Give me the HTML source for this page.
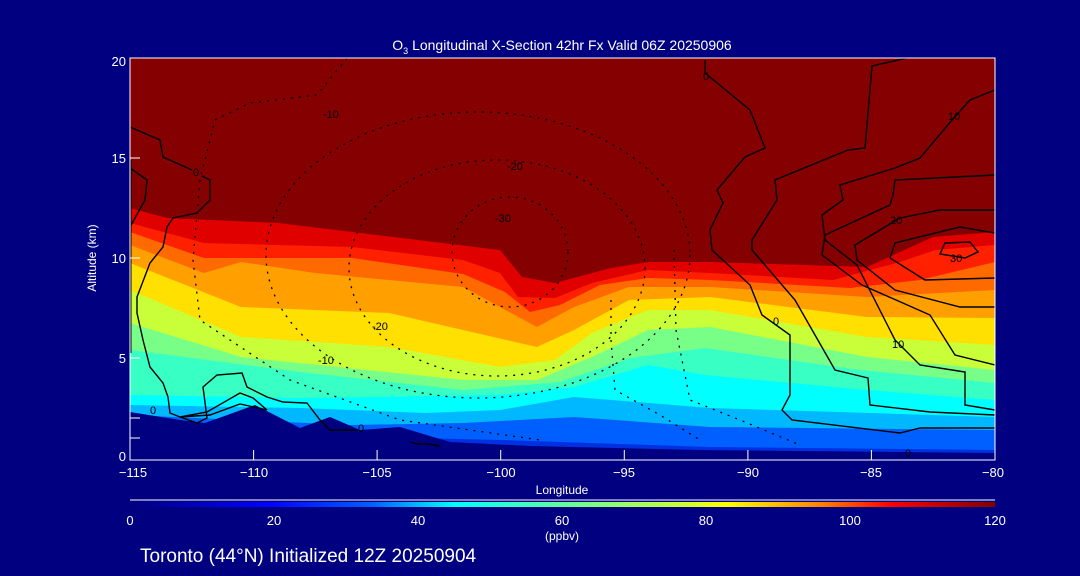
<!DOCTYPE html>
<html><head><meta charset="utf-8"><style>
html,body{margin:0;padding:0;background:#000080;}
svg{display:block;}
text{font-family:"Liberation Sans",sans-serif;fill:#fff;}
.cl text{fill:#000;}
</style></head><body>
<svg width="1080" height="576" viewBox="0 0 1080 576" xmlns="http://www.w3.org/2000/svg">
<defs>
<linearGradient id="cb" x1="0" x2="1" y1="0" y2="0">
<stop offset="0" stop-color="#00007f"/>
<stop offset="0.16" stop-color="#0000ff"/>
<stop offset="0.28" stop-color="#0060ff"/>
<stop offset="0.375" stop-color="#00ffff"/>
<stop offset="0.5" stop-color="#60ffa0"/>
<stop offset="0.625" stop-color="#c0ff40"/>
<stop offset="0.69" stop-color="#ffff00"/>
<stop offset="0.8" stop-color="#ff8000"/>
<stop offset="0.88" stop-color="#ff0000"/>
<stop offset="1" stop-color="#800000"/>
</linearGradient>
<clipPath id="pc"><rect x="130" y="58" width="865" height="402"/></clipPath>
</defs>
<rect width="1080" height="576" fill="#000080"/>
<g clip-path="url(#pc)">
<rect x="130" y="58" width="865" height="402" fill="#850000"/>
<path fill="#e00000" d="M130,208 L167,218 L278,223 L500,250 L522,277 L555,283 L611,268 L648,262 L710,262 L867,267 L933,237 L995,232 L995,460 L130,460Z"/>
<path fill="#ff2000" d="M130,223 L204,243 L352,247 L463,260 L500,273 L518,297 L555,298 L592,283 L648,270 L710,273 L833,280 L900,262 L935,250 L995,245 L995,460 L130,460Z"/>
<path fill="#ff6a00" d="M130,232 L204,258 L352,258 L463,274 L505,292 L530,312 L560,305 L600,285 L648,278 L710,280 L850,288 L920,280 L995,262 L995,460 L130,460Z"/>
<path fill="#ffa000" d="M130,245 L204,273 L241,262 L315,273 L463,287 L500,307 L537,327 L574,307 L629,287 L710,287 L867,297 L995,290 L995,460 L130,460Z"/>
<path fill="#ffe000" d="M130,263 L241,307 L389,313 L463,330 L537,347 L574,330 L629,300 L710,297 L867,317 L995,318 L995,460 L130,460Z"/>
<path fill="#c8ff38" d="M130,290 L241,337 L389,347 L500,367 L555,360 L592,333 L648,310 L710,310 L867,337 L995,345 L995,460 L130,460Z"/>
<path fill="#78ff88" d="M130,323 L241,357 L463,380 L537,380 L592,357 L648,330 L710,327 L867,357 L995,370 L995,460 L130,460Z"/>
<path fill="#38ffc4" d="M130,350 L300,372 L463,390 L560,382 L630,358 L705,348 L860,370 L995,383 L995,460 L130,460Z"/>
<path fill="#00ffff" d="M130,395 L300,398 L500,395 L574,387 L648,365 L705,375 L867,390 L995,400 L995,460 L130,460Z"/>
<path fill="#00b8ff" d="M130,405 L300,408 L426,413 L500,410 L574,397 L710,408 L995,417 L995,460 L130,460Z"/>
<path fill="#0060ff" d="M130,415 L350,425 L463,423 L574,417 L710,427 L995,430 L995,460 L130,460Z"/>
<path fill="#0030e0" d="M420,438 L500,440 L710,447 L995,450 L995,460 L420,460Z"/>
<path fill="#000080" d="M130,412 L180,420 L205,423 L255,405 L300,428 L330,417 L360,430 L400,427 L450,442 L530,446 L700,450 L995,453 L995,460 L130,460Z"/>
<g fill="none" stroke="#000" stroke-width="1.4">
<path d="M705,60 L705,73 L750,110 L765,148 L745,157 L717,190 L723,203 L710,230 L712,250 L750,285 L762,315 L790,335 L790,395 L782,410 L792,420 L900,433 L920,428 L995,428"/>
<path d="M907,58 L872,66 L865,148 L848,150 L775,180 L777,200 L752,240 L752,250 L795,300 L835,370 L868,378 L870,405 L930,412 L995,415"/>
<path d="M995,90 L970,100 L952,120 L920,158 L895,168 L840,185 L843,200 L822,215 L825,240 L857,265 L895,340 L920,365 L965,372 L965,405 L995,410"/>
<path d="M995,175 L895,180 L893,195 L890,205 L825,235 L822,255 L862,285 L930,315 L955,355 L995,365"/>
<path d="M995,210 L940,210 L900,218 L855,245 L857,260 L895,290 L960,307 L995,307"/>
<path d="M995,233 L960,227 L895,243 L890,258 L925,280 L995,278"/>
<path d="M945,243 L970,242 L978,252 L965,258 L940,254Z"/>
<path d="M130,127 L153,137 L160,140 L163,157 L192,170 M202,176 L210,180 L210,200 L197,213 L173,218 L167,227 L163,247 L150,263 L137,297 L137,313 L143,340 L150,367 L163,383 L168,397 L170,413 L180,417 L197,423 L207,418 L203,387 L217,375 L242,373 L247,387 L267,397 L283,402 L307,403 L320,420 L330,430 L358,430"/>
<path d="M130,168 L147,180 L145,200 L130,227"/>
<path d="M180,417 L207,412 L240,393 L253,398 L267,410 L240,404 L210,415Z"/>
<path d="M410,442 L418,444 L428,444 L440,446"/>
<line x1="130" y1="160" x2="130" y2="353" stroke-width="3"/>
</g>
<g fill="none" stroke="#000" stroke-width="1.3" stroke-dasharray="2 6">
<ellipse cx="510" cy="252" rx="58" ry="55"/>
<ellipse cx="497" cy="268" rx="148" ry="108"/>
<ellipse cx="478" cy="255" rx="212" ry="143"/>
<path d="M347,58 L317,95 L250,103 L215,120 L200,180 L193,260 L200,320 L290,380 L400,420 L540,440"/>
<path d="M611,300 L611,340 L615,390 L660,415 L700,440"/>
<path d="M674,250 L676,330 L690,400 L740,420 L800,445"/>
</g>
<g class="cl" font-size="11">
<text x="193" y="176">0</text><text x="703" y="80">0</text><text x="773" y="325">0</text>
<text x="150" y="414">0</text><text x="358" y="432">0</text><text x="905" y="457">0</text>
<text x="323" y="118">-10</text><text x="318" y="364">-10</text><text x="507" y="170">-20</text><text x="372" y="330">-20</text>
<text x="495" y="222">-30</text><text x="892" y="348">10</text><text x="948" y="120">10</text><text x="890" y="224">20</text><text x="950" y="262">30</text>
</g>
</g>
<rect x="130" y="58" width="865" height="402" fill="none" stroke="#fff" stroke-width="1"/>
<g stroke="#fff" stroke-width="1">
<path d="M130,460 v-10 M253.6,460 v-10 M377.1,460 v-10 M500.7,460 v-10 M624.3,460 v-10 M747.9,460 v-10 M871.4,460 v-10 M995,460 v-10"/>
<path d="M130,438 h10 M130,418 h10 M130,358 h10 M130,258 h10 M130,158 h10"/>
</g>
<g font-size="13" text-anchor="end">
<text x="126" y="66">20</text><text x="126" y="163">15</text><text x="126" y="263">10</text><text x="126" y="363">5</text><text x="126" y="461">0</text>
</g>
<g font-size="13" text-anchor="middle">
<text x="133" y="477">−115</text><text x="254" y="477">−110</text><text x="377" y="477">−105</text><text x="501" y="477">−100</text><text x="624" y="477">−95</text><text x="748" y="477">−90</text><text x="871" y="477">−85</text><text x="993" y="477">−80</text>
<text x="562" y="494" font-size="12">Longitude</text>
<text x="562" y="50" font-size="14">O<tspan font-size="9" dy="4">3</tspan><tspan dy="-4"> Longitudinal X-Section 42hr  Fx Valid 06Z 20250906</tspan></text>
</g>
<text transform="translate(96,258) rotate(-90)" font-size="12" text-anchor="middle">Altitude (km)</text>
<line x1="130" y1="500" x2="995" y2="500" stroke="#fff"/>
<rect x="130" y="502" width="865" height="5" fill="url(#cb)"/>
<g font-size="13" text-anchor="middle">
<text x="130" y="525">0</text><text x="274" y="525">20</text><text x="418" y="525">40</text><text x="562" y="525">60</text><text x="706" y="525">80</text><text x="850" y="525">100</text><text x="995" y="525">120</text>
<text x="562" y="540" font-size="12">(ppbv)</text>
</g>
<text x="140" y="562" font-size="19">Toronto (44°N) Initialized 12Z 20250904</text>
</svg>
</body></html>
